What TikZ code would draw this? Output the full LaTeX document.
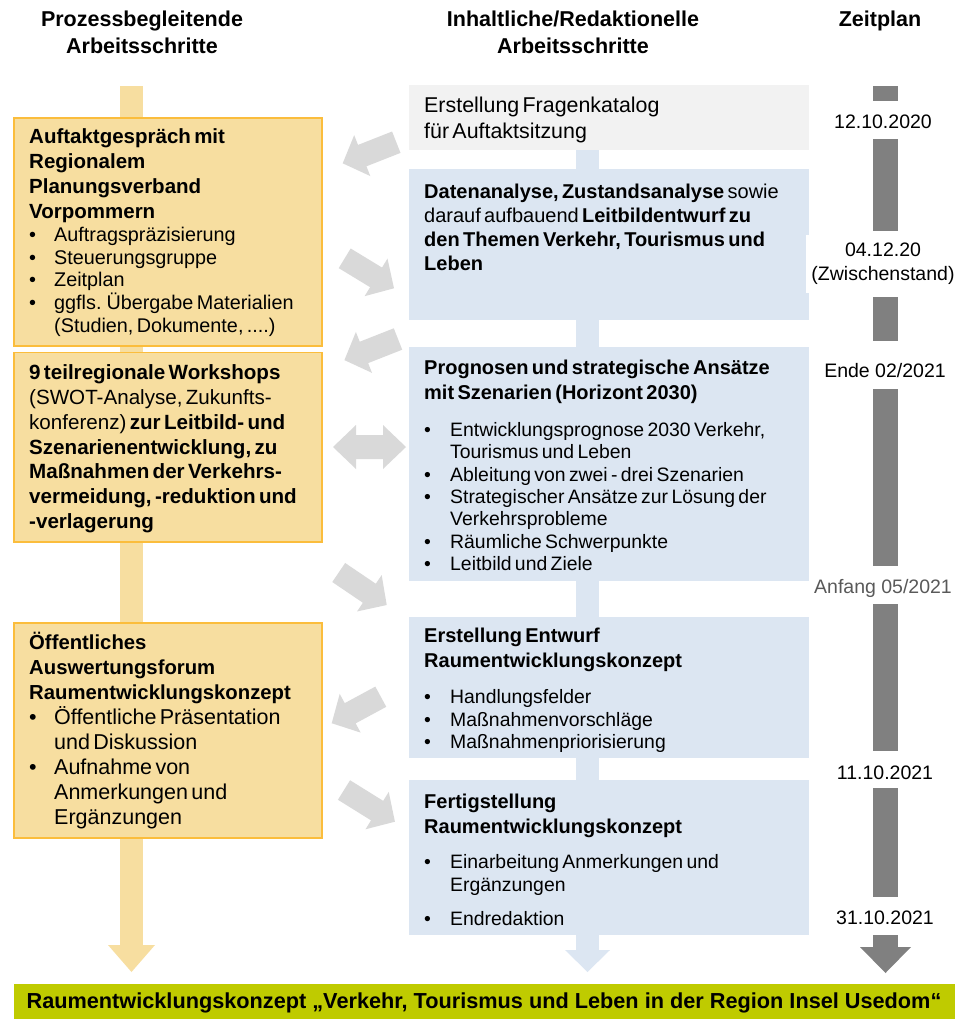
\documentclass[tikz,border=0pt]{standalone}
\usepackage{fontspec}
\setmainfont{Liberation Sans}
\setlength\parindent{0pt}
\setlength\parskip{0pt}
\definecolor{yfill}{HTML}{F7DEA0}
\definecolor{yline}{HTML}{FBBD3C}
\definecolor{bfill}{HTML}{DCE6F2}
\definecolor{gfill}{HTML}{F2F2F2}
\definecolor{garrow}{HTML}{D9D9D9}
\definecolor{tline}{HTML}{808080}
\definecolor{gbar}{HTML}{BFCB00}
\definecolor{dgray}{HTML}{595959}
\newcommand\fs[2]{\fontsize{#1}{#2}\selectfont}
\newcommand\bitem{\hangindent=25pt\hangafter=1\noindent\makebox[25pt][l]{•}\ignorespaces}
\newcommand\mitem{\hangindent=26pt\hangafter=1\noindent\makebox[26pt][l]{•}\ignorespaces}
\newcommand\st{\rule{0pt}{22pt}}
% fat gray arrow: tail centre x, y, canvas angle, length
\newcommand\fatarrow[4]{%
  \fill[garrow, shift={(#1,#2)}, rotate=#3]
    (0,-11.5) -- ({#4-21},-11.5) -- ({#4-21},-22) -- (#4,0) --
    ({#4-21},22) -- ({#4-21},11.5) -- (0,11.5) -- cycle;}
\begin{document}
\begin{tikzpicture}[x=1pt,y=-1pt,
  box/.style={anchor=north west, inner sep=0pt, outer sep=0pt},
  ybox/.style={box, draw=yline, line width=1.5pt, fill=yfill},
  bbox/.style={box, fill=bfill},
  gbox/.style={box, fill=gfill},
  txt/.style={anchor=north west, inner sep=0pt, align=left, text width=#1},
  hdr/.style={anchor=north, inner sep=0pt, align=center, font=\fs{21.5}{27}\bfseries},
  tlabel/.style={anchor=base, inner sep=0pt, font=\fs{19.5}{24}}]
\useasboundingbox (0,0) rectangle (962,1021);

% headers
\node[hdr] (h1) at (142,4.5) {\st Prozessbegleitende\\Arbeitsschritte};
\node[hdr] (h2) at (573,4.5) {\st Inhaltliche/Redaktionelle\\Arbeitsschritte};
\node[hdr] (h3) at (880,4.5) {\st Zeitplan};

% left yellow band with arrow head
\fill[yfill] (120,86) rectangle (143,946);
\fill[yfill] (108,945) -- (155,945) -- (131.5,972) -- cycle;
% middle blue band with arrow head
\fill[bfill] (576,150) rectangle (599,951);
\fill[bfill] (565,950) -- (610,950) -- (587.5,972) -- cycle;

% left boxes
\node[ybox, minimum width=308pt, minimum height=228pt] (b1) at (14,118) {};
\node[ybox, minimum width=308pt, minimum height=189.5pt] (b2) at (14,352.5) {};
\node[ybox, minimum width=308pt, minimum height=215pt] (b3) at (14,623) {};

\node[txt=300pt] (t1) at (29,121.5) {%
{\fs{20.5}{25}\bfseries\st Auftaktgespräch mit\newline Regionalem\newline Planungsverband\newline Vorpommern\par}
{\fs{19.8}{22.7}%
\bitem Auftragspräzisierung\par
\bitem Steuerungsgruppe\par
\bitem Zeitplan\par
\bitem ggfls. Übergabe Materialien\newline (Studien, Dokumente, ....)\par}};

\node[txt=300pt] (t2) at (29,357.5) {%
{\fs{20.6}{24.8}\st\textbf{9 teilregionale Workshops}\newline
(SWOT-Analyse, Zukunfts-\newline
konferenz) \textbf{zur Leitbild- und}\newline
\textbf{Szenarienentwicklung, zu}\newline
\textbf{Maßnahmen der Verkehrs-}\newline
\textbf{vermeidung, -reduktion und}\newline
\textbf{-verlagerung}\par}};

\node[txt=300pt] (t3) at (29,627.5) {%
{\fs{20.3}{25}\bfseries\st Öffentliches\newline Auswertungsforum\newline Raumentwicklungskonzept\par}
{\fs{21.5}{25}%
\bitem Öffentliche Präsentation\newline und Diskussion\par
\bitem Aufnahme von\newline Anmerkungen und\newline Ergänzungen\par}};

% middle boxes
\node[gbox, minimum width=400pt, minimum height=65pt] (m0) at (409,85) {};
\node[bbox, minimum width=400pt, minimum height=151pt] (m1) at (409,169) {};
\node[bbox, minimum width=400pt, minimum height=234pt] (m2) at (409,347) {};
\node[bbox, minimum width=400pt, minimum height=141pt] (m3) at (409,617) {};
\node[bbox, minimum width=400pt, minimum height=155pt] (m4) at (409,780) {};

\node[txt=380pt] (n0) at (424,90.5) {%
{\fs{21.4}{25.7}\st Erstellung Fragenkatalog\newline für Auftaktsitzung\par}};

\node[txt=380pt] (n1) at (424,176.5) {%
{\fs{20}{24}\st\textbf{Datenanalyse, Zustandsanalyse} sowie\newline
darauf aufbauend \textbf{Leitbildentwurf zu}\newline
\textbf{den Themen Verkehr, Tourismus und}\newline
\textbf{Leben}\par}};

\node[txt=380pt] (n2) at (424,352.5) {%
{\fs{20}{25}\bfseries\st Prognosen und strategische Ansätze\newline mit Szenarien (Horizont 2030)\par}
\vspace{14.6pt}
{\fs{19.4}{22.3}%
\mitem Entwicklungsprognose 2030 Verkehr,\newline Tourismus und Leben\par
\mitem Ableitung von zwei - drei Szenarien\par
\mitem Strategischer Ansätze zur Lösung der\newline Verkehrsprobleme\par
\mitem Räumliche Schwerpunkte\par
\mitem Leitbild und Ziele\par}};

\node[txt=380pt] (n3) at (424,620.5) {%
{\fs{20}{25}\bfseries\st Erstellung Entwurf\newline Raumentwicklungskonzept\par}
\vspace{13.5pt}
{\fs{19.4}{22.5}%
\mitem Handlungsfelder\par
\mitem Maßnahmenvorschläge\par
\mitem Maßnahmenpriorisierung\par}};

\node[txt=380pt] (n4) at (424,786.5) {%
{\fs{20}{25}\bfseries\st Fertigstellung\newline Raumentwicklungskonzept\par}
\vspace{12.5pt}
{\fs{19.4}{22.5}%
\mitem Einarbeitung Anmerkungen und\newline Ergänzungen\par
\vspace{11.5pt}
\mitem Endredaktion\par}};

% gray arrows between columns
\fatarrow{396.3}{142.2}{201.5}{57.6}
\fatarrow{344.7}{258.3}{-31.3}{57.7}
\fatarrow{398}{339}{201.5}{57.6}
\fill[garrow] (333,447) -- (356,425) -- (356,435) -- (383,435) -- (383,425) --
  (406,447) -- (383,469) -- (383,459) -- (356,459) -- (356,469) -- cycle;
\fatarrow{338.7}{572.5}{-34.1}{58}
\fatarrow{380.8}{696.7}{208.4}{55.8}
\fatarrow{344}{790}{-31.9}{60}

% timeline
\fill[tline] (873,86) rectangle (898,101);
\fill[tline] (873,139) rectangle (898,231);
\fill[tline] (873,297) rectangle (898,341);
\fill[tline] (873,389) rectangle (898,566);
\fill[tline] (873,604) rectangle (898,751);
\fill[tline] (873,788) rectangle (898,897);
\fill[tline] (873,935) rectangle (898,948);
\fill[tline] (860,947) -- (911,947) -- (885.5,973) -- cycle;

\node[tlabel] (d1) at (883,128) {12.10.2020};
\node[box, fill=white, minimum width=150pt, minimum height=58pt] (zw) at (806,235) {};
\node[tlabel] (d2) at (883,256) {04.12.20};
\node[tlabel] (d2b) at (883,280) {(Zwischenstand)};
\node[tlabel] (d3) at (885,377) {Ende 02/2021};
\node[tlabel, text=dgray] (d4) at (883,593) {Anfang 05/2021};
\node[tlabel] (d5) at (885,779) {11.10.2021};
\node[tlabel] (d6) at (885,924) {31.10.2021};

% bottom bar
\node[box, fill=gbar, minimum width=941pt, minimum height=35pt] (bar) at (14,984) {};
\node[anchor=base, inner sep=0pt, font=\fs{21.7}{26}\bfseries] (bartxt) at (484,1008.5)
  {Raumentwicklungskonzept „Verkehr, Tourismus und Leben in der Region Insel Usedom“};
\end{tikzpicture}
\end{document}
